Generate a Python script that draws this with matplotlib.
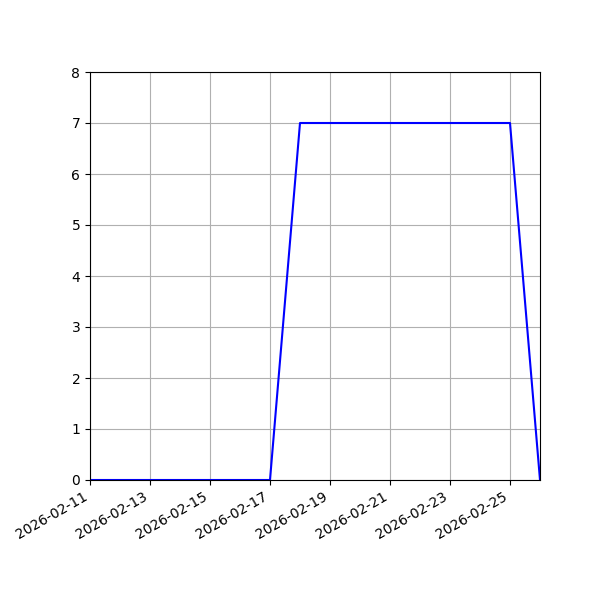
import matplotlib
matplotlib.use("Agg")
import matplotlib.pyplot as plt
import matplotlib.dates as mdates
import numpy as np
import pandas as pd

# Daily values
dates = pd.date_range("2026-02-11", "2026-02-26", freq="D")
values = [0, 0, 0, 0, 0, 0, 0, 7, 7, 7, 7, 7, 7, 7, 7, 0]

fig, ax = plt.subplots(figsize=(6, 6), dpi=100)
ax.plot(dates, values, color="blue")
ax.set_xlim(dates[0], dates[-1])
ax.set_ylim(0, 8)
ax.xaxis.set_major_locator(mdates.DayLocator(bymonthday=range(1, 32, 2)))
ax.xaxis.set_major_formatter(mdates.DateFormatter("%Y-%m-%d"))
ax.grid(True)
fig.autofmt_xdate()
fig.subplots_adjust(left=0.15, right=0.9, top=0.88, bottom=0.2)

fig.savefig("out.png")
